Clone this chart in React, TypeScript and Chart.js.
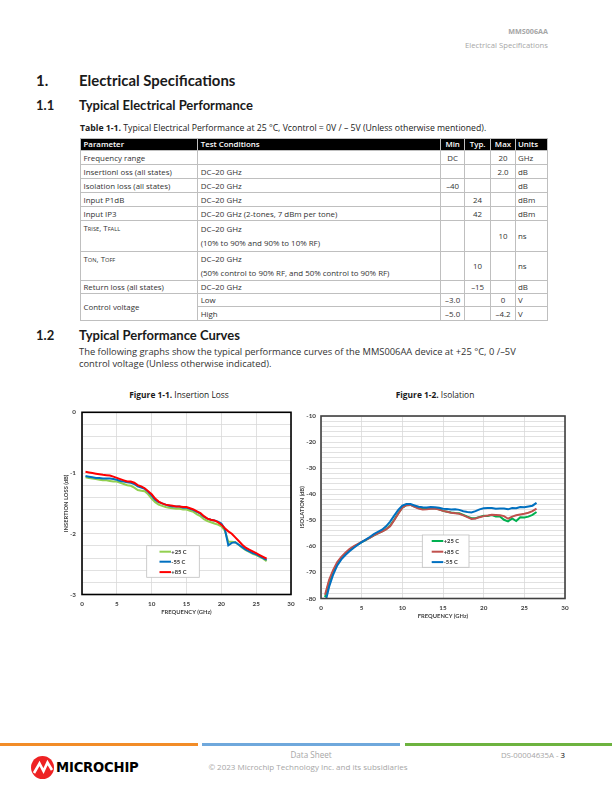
import React, { useEffect, useRef } from "react";
import { Chart, registerables } from "chart.js";

Chart.register(...registerables);

// ---------- DATA ----------
const FREQ_GHZ = [
  0.5, 1, 1.5, 2, 2.5, 3, 3.5, 4, 4.5, 5, 5.5, 6, 6.5, 7, 7.5, 8, 8.5, 9, 9.5, 10,
  10.5, 11, 11.5, 12, 12.5, 13, 13.5, 14, 14.5, 15, 15.5, 16, 16.5, 17, 17.5, 18,
  18.5, 19, 19.5, 20, 20.5, 21, 21.5, 22, 22.5, 23, 23.5, 24, 24.5, 25, 25.5, 26, 26.5,
];

// Insertion loss (dB)
const IL_P25C = [
  -1.07, -1.08, -1.09, -1.1, -1.11, -1.12, -1.12, -1.13, -1.14, -1.14, -1.16, -1.18, -1.2,
  -1.21, -1.24, -1.28, -1.29, -1.3, -1.35, -1.42, -1.48, -1.52, -1.54, -1.56, -1.57, -1.58,
  -1.59, -1.59, -1.6, -1.6, -1.62, -1.64, -1.68, -1.71, -1.76, -1.79, -1.81, -1.83, -1.85,
  -1.88, -1.95, -2.13, -2.13, -2.14, -2.18, -2.23, -2.27, -2.3, -2.33, -2.35, -2.38, -2.41, -2.45,
];
const IL_M55C = [
  -1.05, -1.06, -1.07, -1.08, -1.08, -1.09, -1.09, -1.09, -1.1, -1.11, -1.13, -1.14, -1.15,
  -1.16, -1.18, -1.22, -1.24, -1.26, -1.31, -1.37, -1.44, -1.48, -1.5, -1.52, -1.54, -1.55,
  -1.55, -1.55, -1.57, -1.57, -1.59, -1.61, -1.64, -1.67, -1.72, -1.75, -1.77, -1.78, -1.8,
  -1.83, -1.92, -2.19, -2.15, -2.14, -2.18, -2.22, -2.26, -2.29, -2.32, -2.34, -2.37, -2.4, -2.43,
];
const IL_P85C = [
  -0.98, -0.99, -1.0, -1.01, -1.02, -1.03, -1.035, -1.04, -1.06, -1.08, -1.1, -1.12, -1.14,
  -1.14, -1.16, -1.2, -1.22, -1.25, -1.3, -1.35, -1.42, -1.47, -1.5, -1.52, -1.53, -1.54,
  -1.55, -1.55, -1.56, -1.56, -1.58, -1.6, -1.63, -1.66, -1.71, -1.75, -1.77, -1.78, -1.81,
  -1.85, -1.91, -1.96, -2.0, -2.06, -2.12, -2.18, -2.23, -2.26, -2.29, -2.32, -2.35, -2.38, -2.41,
];

// Isolation (dB)
const ISO_P25C = [
  -79.5, -73.5, -69.6, -66.6, -64.5, -62.8, -61.4, -60.3, -59.3, -58.4, -57.6, -56.7, -55.8,
  -55.0, -54.2, -53.4, -52.0, -49.8, -47.3, -45.2, -44.2, -44.1, -44.7, -45.3, -45.7, -45.6,
  -45.4, -45.5, -45.8, -46.4, -46.7, -47.0, -47.2, -47.3, -47.9, -48.6, -49.2, -49.2, -48.7,
  -48.3, -48.4, -48.0, -48.5, -48.5, -49.8, -50.4, -49.3, -50.3, -48.8, -48.9, -48.6, -47.9, -46.8,
];
const ISO_P85C = [
  -78.6, -72.8, -69.0, -66.0, -64.0, -62.4, -61.0, -60.0, -59.1, -58.3, -57.5, -56.7, -55.8,
  -55.0, -54.3, -53.5, -52.3, -50.0, -47.5, -45.2, -44.2, -44.1, -44.8, -45.5, -45.9, -45.8,
  -45.6, -45.5, -45.9, -46.4, -46.7, -47.1, -47.3, -47.5, -48.1, -48.8, -49.5, -49.3, -48.8,
  -48.4, -48.2, -47.9, -48.0, -48.1, -48.4, -49.4, -48.6, -48.1, -47.8, -47.5, -47.1, -46.5, -45.5,
];
const ISO_M55C = [
  -82.0, -75.5, -70.8, -67.3, -65.0, -63.3, -61.9, -60.6, -59.5, -58.4, -57.4, -56.4, -55.3,
  -54.4, -53.6, -52.3, -50.5, -48.2, -46.0, -44.4, -43.8, -43.8, -44.3, -44.8, -45.0, -45.1,
  -44.9, -45.0, -45.2, -45.6, -45.7, -45.9, -45.8, -46.0, -46.5, -46.8, -47.0, -46.5, -45.8,
  -45.4, -45.3, -45.3, -45.6, -45.5, -45.5, -45.8, -45.3, -45.4, -44.9, -45.0, -44.7, -44.4, -43.3,
];

const X_TICK_LABELS = ["0", "5", "10", "15", "20", "25", "30"];
const IL_Y_LABELS = ["0", "-1", "-2", "-3"];
const ISO_Y_LABELS = ["-10", "-20", "-30", "-40", "-50", "-60", "-70", "-80"];

// ---------- CHART HELPERS ----------
const pts = (vals: number[]) => FREQ_GHZ.map((f, i) => ({ x: f, y: vals[i] }));

const framePlugin = (color: string, w: number) => ({
  id: "frame",
  afterDatasetsDraw(chart: any) {
    const { ctx, chartArea: a } = chart;
    ctx.save();
    ctx.strokeStyle = color;
    ctx.lineWidth = w;
    ctx.strokeRect(a.left, a.top, a.right - a.left, a.bottom - a.top);
    ctx.restore();
  },
});

const boxLegendPlugin = (order: number[], box: any) => ({
  id: "boxLegend",
  afterDraw(chart: any) {
    const { ctx, chartArea: a } = chart;
    const x = a.left + box.dx;
    const y = a.top + box.dy;
    ctx.save();
    ctx.fillStyle = "#ffffff";
    ctx.fillRect(x, y, box.w, box.h);
    ctx.strokeStyle = "#bfbfbf";
    ctx.lineWidth = 0.8;
    ctx.strokeRect(x, y, box.w, box.h);
    order.forEach((di, i) => {
      const ds = chart.data.datasets[di];
      const yy = y + box.rows[i];
      ctx.strokeStyle = ds.borderColor;
      ctx.lineWidth = 2;
      ctx.beginPath();
      ctx.moveTo(x + box.l0, yy);
      ctx.lineTo(x + box.l1, yy);
      ctx.stroke();
      ctx.fillStyle = "#333333";
      ctx.font = "bold 5.8px Lato";
      ctx.textBaseline = "middle";
      ctx.textAlign = "left";
      ctx.fillText(ds.label, x + box.tx, yy + 0.3);
    });
    ctx.restore();
  },
});

const tickFont = { family: "Lato", size: 6.3, weight: "bold" as const };
const titleFont = { family: "Lato", size: 5.8, weight: "bold" as const };

function makeConfig(opts: any) {
  return {
    type: "line",
    data: { datasets: opts.datasets },
    options: {
      responsive: false,
      animation: false,
      events: [],
      layout: { padding: { top: opts.padTop, right: opts.padRight, bottom: 0, left: 0 } },
      plugins: { legend: { display: false }, tooltip: { enabled: false } },
      elements: { point: { radius: 0 }, line: { tension: 0, borderWidth: 2 } },
      scales: {
        x: {
          type: "linear",
          min: 0,
          max: 30,
          border: { display: false },
          grid: { color: "#d9d9d9", lineWidth: 0.8, drawTicks: false },
          ticks: {
            stepSize: 5,
            padding: opts.xTickPad,
            font: tickFont,
            color: "#404040",
            maxRotation: 0,
            callback: (v: number) => X_TICK_LABELS[Math.round(v / 5)] ?? "",
          },
          title: {
            display: true,
            text: "FREQUENCY (GHz)",
            font: titleFont,
            color: "#404040",
            padding: { top: 0, bottom: 1 },
          },
          afterFit: (s: any) => {
            s.height = opts.xHeight;
          },
        },
        y: {
          min: opts.yMin,
          max: opts.yMax,
          border: { display: false },
          grid: { color: "#d9d9d9", lineWidth: 0.8, drawTicks: false },
          ticks: {
            stepSize: opts.yStep,
            autoSkip: false,
            padding: opts.yTickPad,
            font: tickFont,
            color: "#404040",
            callback: opts.yLabel,
          },
          title: {
            display: true,
            text: opts.yTitle,
            font: titleFont,
            color: "#404040",
            padding: { top: opts.yTitlePad, bottom: 0 },
          },
          afterFit: (s: any) => {
            s.width = opts.yWidth;
          },
        },
      },
    },
    plugins: [framePlugin(opts.frameColor, 1.6), boxLegendPlugin(opts.legendOrder, opts.legendBox)],
  };
}

function ChartCanvas({ left, top, width, height, config }: any) {
  const ref = useRef<HTMLCanvasElement | null>(null);
  useEffect(() => {
    const chart = new Chart(ref.current as HTMLCanvasElement, config() as any);
    return () => chart.destroy();
  }, []);
  return (
    <div style={{ position: "absolute", left, top, width, height }}>
      <canvas ref={ref} width={width} height={height} style={{ width, height, display: "block" }} />
    </div>
  );
}

const insertionConfig = () =>
  makeConfig({
    datasets: [
      { label: "+25 C", data: pts(IL_P25C), borderColor: "#92D050", order: 2 },
      { label: "-55 C", data: pts(IL_M55C), borderColor: "#0070C0", order: 1 },
      { label: "+85 C", data: pts(IL_P85C), borderColor: "#FF0000", order: 0 },
    ],
    padTop: 12.3,
    padRight: 9,
    xHeight: 22.5,
    xTickPad: 5.3,
    yMin: -3,
    yMax: 0,
    yStep: 0.2,
    yTickPad: 6,
    yWidth: 24,
    yTitle: "INSERTION LOSS (dB)",
    yTitlePad: 4.2,
    yLabel: (v: number) => (Math.abs(v - Math.round(v)) < 1e-6 ? IL_Y_LABELS[-Math.round(v)] : ""),
    frameColor: "#000000",
    legendOrder: [0, 1, 2],
    legendBox: { dx: 64.7, dy: 133.4, w: 52.6, h: 31.6, l0: 12.8, l1: 24.3, tx: 24.6, rows: [6, 16, 26.4] },
  });

const isolationConfig = () =>
  makeConfig({
    datasets: [
      { label: "+25 C", data: pts(ISO_P25C), borderColor: "#00B050", order: 2 },
      { label: "+85 C", data: pts(ISO_P85C), borderColor: "#C0504D", order: 1 },
      { label: "-55 C", data: pts(ISO_M55C), borderColor: "#0070C0", order: 0 },
    ],
    padTop: 12,
    padRight: 10,
    xHeight: 22.5,
    xTickPad: 5.8,
    yMin: -80,
    yMax: -10,
    yStep: 2,
    yTickPad: 5,
    yWidth: 25,
    yTitle: "ISOLATION (dB)",
    yTitlePad: 2.2,
    yLabel: (v: number) => {
      const r = Math.round(v);
      return r % 10 === 0 ? ISO_Y_LABELS[(-r - 10) / 10] ?? "" : "";
    },
    frameColor: "#404040",
    legendOrder: [0, 1, 2],
    legendBox: { dx: 101.3, dy: 119, w: 46.7, h: 32.3, l0: 9.4, l1: 21, tx: 21.4, rows: [6, 16.7, 27.1] },
  });

// ---------- PAGE HELPERS ----------
function T({ x, y, size, children, weight, color, family, align }: any) {
  const lh = size * 1.4;
  const base: any = {
    position: "absolute",
    top: y - lh / 2,
    fontSize: size,
    lineHeight: `${lh}px`,
    fontWeight: weight || 400,
    color: color || "#333333",
    fontFamily: family || "'Open Sans'",
    whiteSpace: "nowrap",
  };
  if (align === "right") {
    base.right = 612 - x;
    base.textAlign = "right";
  } else if (align === "center") {
    base.left = x - 250;
    base.width = 500;
    base.textAlign = "center";
  } else {
    base.left = x;
  }
  return <div style={base}>{children}</div>;
}

const SC = ({ children }: any) => <span style={{ fontSize: "0.72em" }}>{children}</span>;

const cell: any = {
  border: "0.8px solid #bfbfbf",
  padding: "0 3px",
  color: "#333333",
  overflow: "hidden",
  whiteSpace: "nowrap",
  verticalAlign: "middle",
};
const num: any = { ...cell, textAlign: "center", padding: "0" };
const unit: any = { ...cell, padding: "0 2px" };
const th: any = {
  ...cell,
  background: "#000000",
  color: "#ffffff",
  fontWeight: 600,
  border: "0.8px solid #bfbfbf",
};

function SpecTable() {
  return (
    <table
      style={{
        position: "absolute",
        left: 79.5,
        top: 137.7,
        width: 468,
        borderCollapse: "collapse",
        tableLayout: "fixed",
        fontFamily: "'Open Sans'",
        fontSize: 7.9,
        lineHeight: "10px",
      }}
    >
      <colgroup>
        <col style={{ width: 117.2 }} />
        <col style={{ width: 243.3 }} />
        <col style={{ width: 24.3 }} />
        <col style={{ width: 25.7 }} />
        <col style={{ width: 25 }} />
        <col style={{ width: 32.5 }} />
      </colgroup>
      <tbody>
        <tr style={{ height: 12.6 }}>
          <td style={th}>Parameter</td>
          <td style={th}>Test Conditions</td>
          <td style={{ ...th, textAlign: "center", padding: 0 }}>Min</td>
          <td style={{ ...th, textAlign: "center", padding: 0 }}>Typ.</td>
          <td style={{ ...th, textAlign: "center", padding: 0 }}>Max</td>
          <td style={{ ...th, padding: "0 2px" }}>Units</td>
        </tr>
        <tr style={{ height: 14 }}>
          <td style={cell}>Frequency range</td>
          <td style={cell}></td>
          <td style={num}>DC</td>
          <td style={num}></td>
          <td style={num}>20</td>
          <td style={unit}>GHz</td>
        </tr>
        <tr style={{ height: 14 }}>
          <td style={cell}>Insertionl oss (all states)</td>
          <td style={cell}>DC–20 GHz</td>
          <td style={num}></td>
          <td style={num}></td>
          <td style={num}>2.0</td>
          <td style={unit}>dB</td>
        </tr>
        <tr style={{ height: 14 }}>
          <td style={cell}>Isolation loss (all states)</td>
          <td style={cell}>DC–20 GHz</td>
          <td style={num}>–40</td>
          <td style={num}></td>
          <td style={num}></td>
          <td style={unit}>dB</td>
        </tr>
        <tr style={{ height: 14 }}>
          <td style={cell}>Input P1dB</td>
          <td style={cell}>DC–20 GHz</td>
          <td style={num}></td>
          <td style={num}>24</td>
          <td style={num}></td>
          <td style={unit}>dBm</td>
        </tr>
        <tr style={{ height: 14 }}>
          <td style={cell}>Input IP3</td>
          <td style={cell}>DC–20 GHz (2-tones, 7 dBm per tone)</td>
          <td style={num}></td>
          <td style={num}>42</td>
          <td style={num}></td>
          <td style={unit}>dBm</td>
        </tr>
        <tr style={{ height: 30.7 }}>
          <td style={{ ...cell, verticalAlign: "top", paddingTop: 2 }}>
            T<SC>RISE</SC>, T<SC>FALL</SC>
          </td>
          <td style={{ ...cell, lineHeight: "14px" }}>
            <div>DC–20 GHz</div>
            <div>(10% to 90% and 90% to 10% RF)</div>
          </td>
          <td style={num}></td>
          <td style={num}></td>
          <td style={num}>10</td>
          <td style={unit}>ns</td>
        </tr>
        <tr style={{ height: 28.3 }}>
          <td style={{ ...cell, verticalAlign: "top", paddingTop: 2 }}>
            T<SC>ON</SC>, T<SC>OFF</SC>
          </td>
          <td style={{ ...cell, lineHeight: "14px" }}>
            <div>DC–20 GHz</div>
            <div>(50% control to 90% RF, and 50% control to 90% RF)</div>
          </td>
          <td style={num}></td>
          <td style={num}>10</td>
          <td style={num}></td>
          <td style={unit}>ns</td>
        </tr>
        <tr style={{ height: 13.4 }}>
          <td style={cell}>Return loss (all states)</td>
          <td style={cell}>DC–20 GHz</td>
          <td style={num}></td>
          <td style={num}>–15</td>
          <td style={num}></td>
          <td style={unit}>dB</td>
        </tr>
        <tr style={{ height: 12.8 }}>
          <td style={cell} rowSpan={2}>
            Control voltage
          </td>
          <td style={cell}>Low</td>
          <td style={num}>–3.0</td>
          <td style={num}></td>
          <td style={num}>0</td>
          <td style={unit}>V</td>
        </tr>
        <tr style={{ height: 13.8 }}>
          <td style={cell}>High</td>
          <td style={num}>–5.0</td>
          <td style={num}></td>
          <td style={num}>–4.2</td>
          <td style={unit}>V</td>
        </tr>
      </tbody>
    </table>
  );
}

export default function App() {
  const H = "Lato";
  return (
    <div style={{ position: "absolute", left: 0, top: 0, width: 612, height: 792, background: "#fff", overflow: "hidden" }}>
      {/* running header */}
      <T x={548} y={31} size={7.2} weight={700} color="#a6a6a6" align="right">MMS006AA</T>
      <T x={548} y={45} size={7.7} color="#a6a6a6" align="right">Electrical Specifications</T>

      {/* headings */}
      <T x={36} y={80} size={14.9} weight={700} color="#1a1a1a" family={H}>1.</T>
      <T x={79} y={80} size={14.9} weight={700} color="#1a1a1a" family={H}>Electrical Specifications</T>
      <T x={36} y={105} size={13} weight={700} color="#1a1a1a" family={H}>1.1</T>
      <T x={79} y={105} size={13} weight={700} color="#1a1a1a" family={H}>Typical Electrical Performance</T>

      <T x={80} y={128.5} size={8.7} color="#1a1a1a">
        <span style={{ fontWeight: 700 }}>Table 1-1.</span> Typical Electrical Performance at 25 °C, Vcontrol = 0V / – 5V (Unless otherwise mentioned).
      </T>

      <SpecTable />

      <T x={36} y={335} size={13} weight={700} color="#1a1a1a" family={H}>1.2</T>
      <T x={79} y={335} size={13} weight={700} color="#1a1a1a" family={H}>Typical Performance Curves</T>
      <T x={79} y={352} size={9.35} color="#333333">
        The following graphs show the typical performance curves of the MMS006AA device at +25 °C, 0 /–5V
      </T>
      <T x={79} y={364} size={9.35} color="#333333">control voltage (Unless otherwise indicated).</T>

      <T x={179} y={395} size={8.4} color="#1a1a1a" align="center">
        <span style={{ fontWeight: 700 }}>Figure 1-1.</span> Insertion Loss
      </T>
      <T x={435} y={395} size={8.4} color="#1a1a1a" align="center">
        <span style={{ fontWeight: 700 }}>Figure 1-2.</span> Isolation
      </T>

      <ChartCanvas left={58} top={400} width={242} height={217} config={insertionConfig} />
      <ChartCanvas left={296} top={404} width={279} height={217} config={isolationConfig} />

      {/* footer */}
      <div style={{ position: "absolute", left: 0, top: 743, width: 198, height: 3, background: "#F28C28" }} />
      <div style={{ position: "absolute", left: 202, top: 743, width: 198, height: 3, background: "#6FA8DC" }} />
      <div style={{ position: "absolute", left: 405, top: 743, width: 207, height: 3, background: "#6DB33F" }} />

      <svg style={{ position: "absolute", left: 31, top: 756 }} width={23} height={23} viewBox="0 0 23 23">
        <circle cx={11.5} cy={11.5} r={11.5} fill="#EE2223" />
        <polyline points="3,17 8.5,7.5 12.5,15 16.5,6.5 21,14" fill="none" stroke="#ffffff" strokeWidth={2.6} strokeLinejoin="miter" />
      </svg>
      <T x={56} y={768} size={13.2} weight={700} color="#000000" family="'DejaVu Sans'">
        <span style={{ letterSpacing: -0.2 }}>MICROCHIP</span>
      </T>

      <T x={311} y={755} size={8.1} color="#a6a6a6" align="center">Data Sheet</T>
      <T x={308} y={767} size={8} color="#a6a6a6" align="center">© 2023 Microchip Technology Inc. and its subsidiaries</T>
      <T x={565} y={755} size={7.8} color="#a6a6a6" align="right">
        DS-00004635A - <span style={{ color: "#000" }}>3</span>
      </T>
    </div>
  );
}
